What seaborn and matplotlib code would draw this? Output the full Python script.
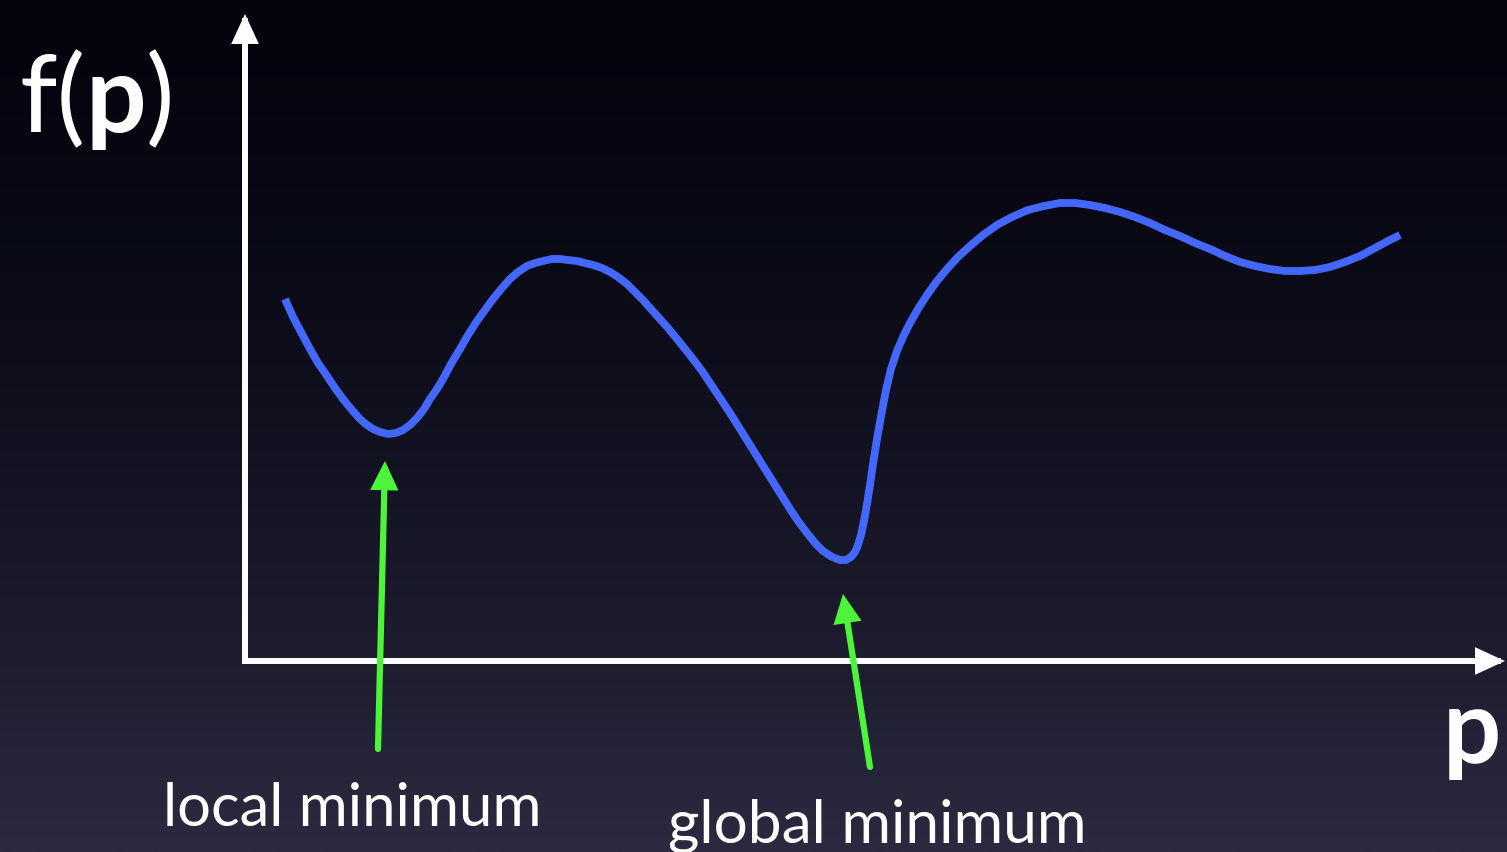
import numpy as np
import matplotlib
matplotlib.use("Agg")
import matplotlib.pyplot as plt
import seaborn as sns

# curve (p along the axis, f(p) up from the axis)
p_vals = [40, 48, 57, 65, 73, 82, 90, 98, 107, 115,
          122, 128, 135, 143, 151, 158, 165, 172, 179, 185,
          192, 198, 206, 215, 223, 232, 240, 248, 257, 265,
          273, 282, 290, 298, 307, 315, 323, 332, 340, 348,
          357, 365, 373, 382, 390, 398, 406, 415, 423, 432,
          440, 448, 457, 465, 475, 485, 495, 505, 515, 525,
          535, 545, 553, 562, 570, 578, 587, 595, 601, 606,
          610, 613, 616, 619, 622, 625, 628, 632, 637, 641,
          646, 652, 658, 665, 673, 682, 692, 702, 713, 725,
          738, 752, 767, 783, 799, 815, 830, 845, 860, 875,
          890, 905, 920, 935, 950, 965, 980, 995, 1010, 1025,
          1040, 1055, 1070, 1085, 1100, 1115, 1130, 1143, 1155]
f_vals = [362, 344, 327, 312, 298, 285, 273, 262, 251, 242,
          236, 232, 229, 227, 228, 231, 236, 243, 252, 262,
          272, 282, 297, 312, 326, 340, 351, 362, 373, 382,
          389, 395, 398, 400, 402, 402, 401, 400, 398, 396,
          393, 389, 384, 377, 369, 361, 352, 342, 333, 322,
          312, 302, 290, 278, 263, 248, 232, 216, 200, 184,
          168, 152, 140, 128, 118, 110, 104, 101, 101, 104,
          109, 116, 126, 140, 157, 176, 197, 222, 250, 271,
          292, 310, 324, 338, 352, 366, 380, 392, 404, 415,
          426, 436, 444, 451, 455, 458, 458, 456, 453, 449,
          444, 438, 431, 425, 418, 412, 405, 399, 395, 392,
          390, 390, 391, 394, 399, 405, 413, 420, 426]
assert len(p_vals) == len(f_vals)

y_label_parts = ["f(", "p", ")"]
x_label = "p"
min_labels = ["local minimum", "global minimum"]

# view window (same units as the curve)
p_lim = (-245, 1262)
f_lim = (-191, 662)

fig = plt.figure(figsize=(15.07, 8.53), dpi=100)
ax = fig.add_axes([0, 0, 1, 1])
ax.set_xlim(*p_lim)
ax.set_ylim(*f_lim)
ax.axis("off")

# dark slide background, black at top fading to slate at the bottom
top = np.array([4, 3, 14]) / 255
bottom = np.array([43, 42, 64]) / 255
t = np.linspace(0, 1, 400)[:, None] ** 1.5
grad = (top * (1 - t) + bottom * t)[:, None, :]
ax.imshow(grad, extent=(*p_lim, *f_lim), aspect="auto", zorder=0)

sns.lineplot(x=p_vals, y=f_vals, ax=ax, color="#4468ff", linewidth=5.6,
             estimator=None, sort=False, zorder=3,
             solid_joinstyle="round", solid_capstyle="butt")

# axes with arrow heads
axis_style = dict(arrowstyle="-|>,head_length=0.65,head_width=0.3",
                  color="white", lw=4.3, mutation_scale=22,
                  shrinkA=0, shrinkB=0, capstyle="projecting",
                  joinstyle="miter")
ax.annotate("", xy=(0, 647), xytext=(0, 0), arrowprops=axis_style, zorder=2)
ax.annotate("", xy=(1260, 0), xytext=(0, 0), arrowprops=axis_style, zorder=2)

# green arrows pointing at the two minima
p_arr = np.array(p_vals)
f_arr = np.array(f_vals)
left = p_arr < 400
i_loc = np.where(left)[0][np.argmin(f_arr[left])]
i_glob = np.argmin(f_arr)
green_style = dict(arrowstyle="-|>,head_length=0.62,head_width=0.3",
                   color="#4cf53a", lw=4.5, mutation_scale=22,
                   shrinkA=0, shrinkB=0, joinstyle="miter")
ax.annotate("", xy=(p_arr[i_loc] - 3, f_arr[i_loc] - 27),
            xytext=(p_arr[i_loc] - 10, -88), arrowprops=green_style, zorder=4)
ax.annotate("", xy=(p_arr[i_glob] + 3, f_arr[i_glob] - 34),
            xytext=(p_arr[i_glob] + 30, -106), arrowprops=green_style, zorder=4)

font = "Lato"
t1 = ax.text(-226, 530, y_label_parts[0], color="white", fontsize=77,
             family=font, va="baseline", ha="left", zorder=5)
t2 = ax.annotate(y_label_parts[1], xy=(1, 0), xycoords=t1, color="white",
                 fontsize=77, family=font, fontweight="bold",
                 va="bottom", ha="left", zorder=5)
ax.annotate(y_label_parts[2], xy=(1, 0), xycoords=t2, color="white",
            fontsize=77, family=font, va="bottom", ha="left", zorder=5)

ax.text(1198, -101, x_label, color="white", fontsize=74, family=font,
        fontweight="bold", va="baseline", ha="left", zorder=5)

ax.text(-82, -164, min_labels[0], color="white", fontsize=43, family=font,
        va="baseline", ha="left", zorder=5)
ax.text(423, -181, min_labels[1], color="white", fontsize=43.5, family=font,
        va="baseline", ha="left", zorder=5)

fig.savefig("out.png", dpi=100)
plt.close(fig)
